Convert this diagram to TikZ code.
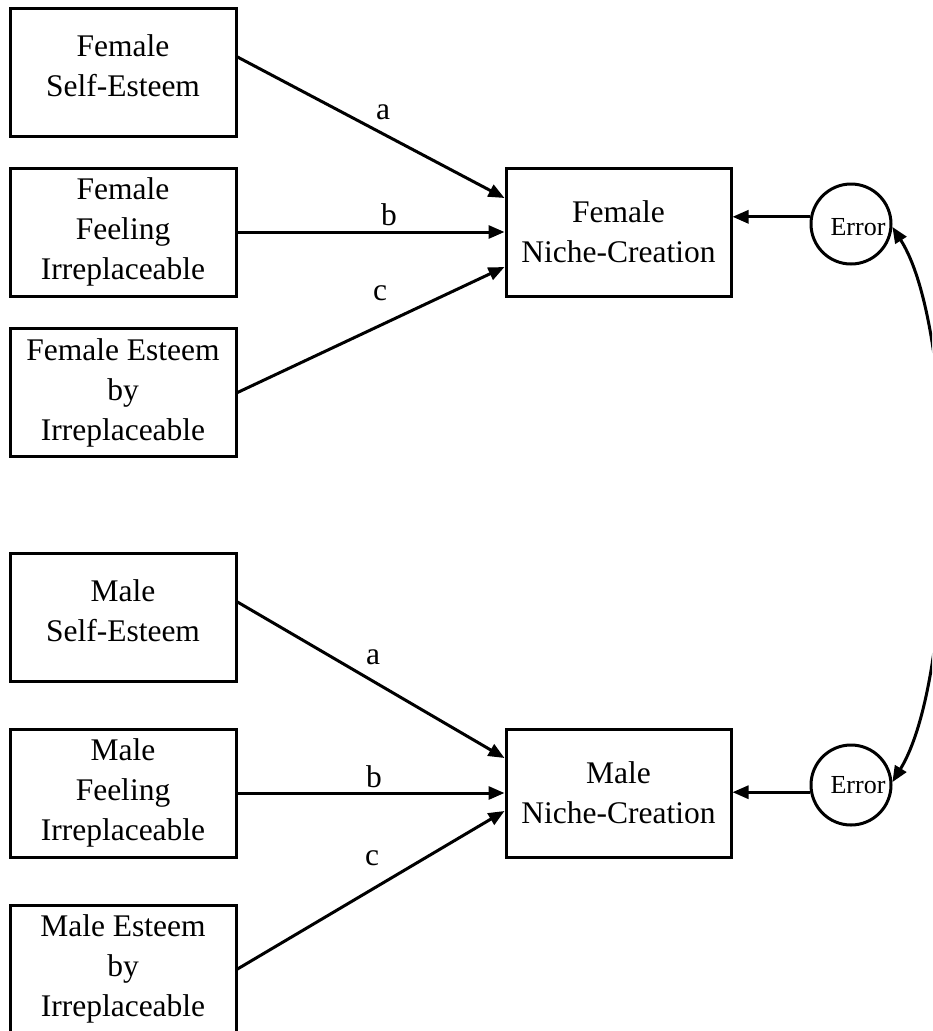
\documentclass[tikz,border=0pt]{standalone}
\usepackage{fontspec}
\setmainfont{Liberation Serif}
\usetikzlibrary{arrows.meta,calc}
\begin{document}
\begin{tikzpicture}[x=1pt,y=-1pt,
  box/.style={draw, line width=3pt, minimum width=226pt, minimum height=128pt, align=center, font=\fontsize{31.5}{40}\selectfont, inner sep=0pt},
  boxtwo/.style={box, label={[font=\fontsize{31.5}{40}\selectfont, align=center, inner sep=0pt, yshift=6pt]center:#1}},
  tbox/.style={box, minimum width=225pt},
  err/.style={draw, circle, line width=3pt, minimum size=80pt, inner sep=0pt},
  errtxt/.style={font=\fontsize{26}{30}\selectfont, inner sep=0pt},
  lbl/.style={font=\fontsize{31.5}{40}\selectfont, inner sep=0pt},
  arr/.style={line width=3pt, -{Triangle[length=16pt,width=13pt]}},
  darr/.style={line width=3pt, {Triangle[length=16pt,width=13pt]}-{Triangle[length=16pt,width=13pt]}},
]
\useasboundingbox (0,0) rectangle (932,1031);
\clip (0,0) rectangle (932,1031);

% Female
\node[boxtwo={Female\\Self-Esteem}] (fse) at (123,72) {};
\node[box] (ffi) at (123,232) {Female\\Feeling\\Irreplaceable};
\node[box] (fei) at (123,392.5) {Female Esteem\\by\\Irreplaceable};
\node[tbox] (fnc) at (618.5,232) {Female\\Niche-Creation};
\node[err] (ferr) at (851,224) {};
\node[errtxt] (fet) at ($(ferr)+(7,3)$) {Error};

% Male
\node[boxtwo={Male\\Self-Esteem}] (mse) at (123,617) {};
\node[box] (mfi) at (123,793) {Male\\Feeling\\Irreplaceable};
\node[box] (mei) at (123,969) {Male Esteem\\by\\Irreplaceable};
\node[tbox] (mnc) at (618.5,793) {Male\\Niche-Creation};
\node[err] (merr) at (851,785) {};
\node[errtxt] (met) at ($(merr)+(7,0)$) {Error};

% labels
\node[lbl] (la1) at (383,112) {a};
\node[lbl] (lb1) at (389,215) {b};
\node[lbl] (lc1) at (380,293) {c};
\node[lbl] (la2) at (373,657) {a};
\node[lbl] (lb2) at (374,777) {b};
\node[lbl] (lc2) at (372,858) {c};

% female arrows
\draw[arr] ($(fse.east)+(0,-15)$) -- ($(fnc.west)+(0,-34)$);
\draw[arr] (ffi.east) -- (fnc.west);
\draw[arr] (fei.east) -- ($(fnc.west)+(0,35)$);
\draw[arr] (ferr.170) -- (fnc.east |- ferr.170);

% male arrows
\draw[arr] ($(mse.east)+(0,-15)$) -- ($(mnc.west)+(0,-35)$);
\draw[arr] (mfi.east) -- (mnc.west);
\draw[arr] (mei.east) -- ($(mnc.west)+(0,18)$);
\draw[arr] (merr.190) -- (mnc.east |- merr.190);

% covariance
\draw[darr] (ferr.-4) .. controls (958,330) and (958,675) .. (merr.4);
\end{tikzpicture}
\end{document}
